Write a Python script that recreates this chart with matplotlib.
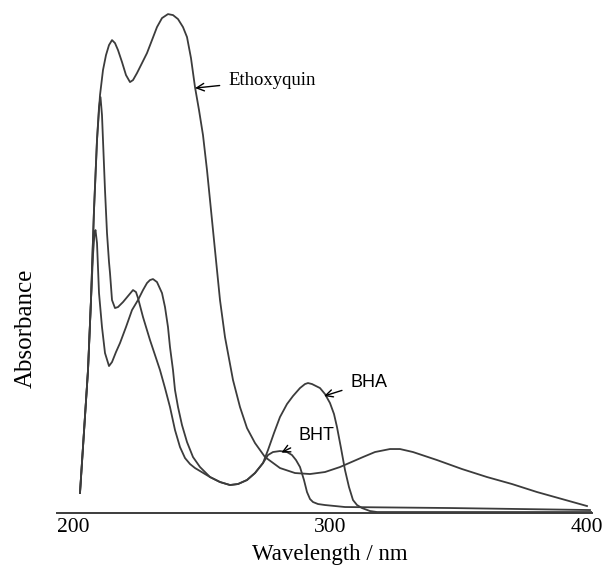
import matplotlib
matplotlib.use("Agg")
import matplotlib.pyplot as plt

# UV spectra: wavelength in nm, absorbance in arbitrary units
ethoxyquin_wl = [202.72, 205.84, 207.00, 208.17, 209.34, 210.51, 211.67, 212.84, 214.01, 215.18,
                 216.34, 217.51, 219.07, 220.62, 222.18, 223.35, 224.90, 226.85, 228.79, 230.74,
                 232.68, 234.63, 236.96, 238.91, 240.86, 242.80, 244.36, 245.91, 247.47, 249.03,
                 250.58, 252.14, 253.31, 255.25, 257.20, 259.14, 262.26, 264.98, 267.70, 270.82,
                 274.71, 280.54, 286.38, 292.22, 298.05, 303.89, 312.84, 317.51, 323.35, 327.24,
                 332.30, 341.63, 351.36, 361.09, 370.82, 380.54, 390.27, 400.00]
ethoxyquin_abs = [0.040, 0.286, 0.426, 0.606, 0.746, 0.836, 0.886, 0.916, 0.936, 0.946,
                  0.940, 0.926, 0.902, 0.876, 0.862, 0.866, 0.880, 0.900, 0.920, 0.946,
                  0.972, 0.990, 0.998, 0.996, 0.988, 0.972, 0.952, 0.910, 0.852, 0.806,
                  0.756, 0.686, 0.626, 0.526, 0.426, 0.352, 0.266, 0.212, 0.170, 0.140,
                  0.112, 0.090, 0.080, 0.078, 0.082, 0.092, 0.112, 0.122, 0.128, 0.128,
                  0.122, 0.106, 0.088, 0.072, 0.058, 0.042, 0.028, 0.014]

bha_wl = [202.72, 205.84, 207.00, 207.78, 208.37, 208.75, 209.34, 210.12, 211.28, 212.45,
          214.01, 215.18, 216.73, 218.29, 220.62, 222.96, 225.29, 227.24, 228.79, 229.96,
          231.13, 232.68, 234.63, 235.80, 236.96, 237.74, 238.91, 239.69, 240.86, 242.41,
          244.36, 246.69, 249.42, 253.31, 257.20, 261.09, 264.20, 267.70, 270.82, 273.93,
          275.88, 278.21, 280.54, 283.27, 285.60, 288.33, 290.27, 291.44, 293.00, 294.55,
          296.11, 298.05, 300.00, 301.56, 302.72, 304.28, 305.84, 307.39, 308.95, 310.51,
          312.45, 315.56, 318.29, 401.95]
bha_abs = [0.040, 0.286, 0.426, 0.516, 0.560, 0.566, 0.540, 0.440, 0.372, 0.320,
           0.294, 0.302, 0.322, 0.340, 0.372, 0.406, 0.426, 0.446, 0.460, 0.466,
           0.468, 0.462, 0.440, 0.412, 0.372, 0.332, 0.286, 0.246, 0.212, 0.176,
           0.142, 0.112, 0.092, 0.072, 0.062, 0.056, 0.058, 0.066, 0.080, 0.100,
           0.126, 0.160, 0.192, 0.218, 0.234, 0.250, 0.258, 0.260, 0.258, 0.254,
           0.250, 0.238, 0.220, 0.198, 0.172, 0.130, 0.086, 0.052, 0.026, 0.016,
           0.010, 0.004, 0.002, 0.002]

bht_wl = [202.72, 205.84, 207.00, 208.17, 209.34, 210.12, 210.70, 211.28, 211.67, 212.45,
          213.23, 214.01, 214.40, 215.18, 216.34, 217.51, 219.46, 221.40, 223.35, 224.51,
          225.29, 227.24, 229.96, 231.91, 233.85, 235.80, 237.74, 239.69, 241.63, 243.58,
          245.53, 247.47, 249.42, 253.31, 257.20, 261.09, 264.20, 267.70, 270.82, 273.93,
          275.88, 277.82, 280.54, 283.27, 285.21, 286.77, 288.33, 289.88, 291.05, 292.22,
          293.39, 295.33, 298.05, 305.84, 346.69, 401.17]
bht_abs = [0.040, 0.286, 0.426, 0.606, 0.746, 0.812, 0.832, 0.796, 0.746, 0.646,
           0.560, 0.502, 0.480, 0.426, 0.410, 0.412, 0.422, 0.434, 0.446, 0.442,
           0.430, 0.392, 0.346, 0.316, 0.286, 0.250, 0.212, 0.166, 0.132, 0.110,
           0.098, 0.090, 0.084, 0.072, 0.062, 0.056, 0.058, 0.066, 0.080, 0.100,
           0.116, 0.122, 0.124, 0.122, 0.116, 0.106, 0.092, 0.066, 0.042, 0.028,
           0.022, 0.018, 0.016, 0.012, 0.010, 0.006]

xtick_vals = [200, 300, 400]

line_col = "#3c3c3c"
serif = ["Liberation Serif", "DejaVu Serif"]
sans = ["Liberation Sans", "DejaVu Sans"]

fig = plt.figure(figsize=(6.05, 5.72), dpi=100)
ax = fig.add_axes([0.0942, 0.1031, 0.8843, 0.888])

ax.plot(ethoxyquin_wl, ethoxyquin_abs, color=line_col, lw=1.3)
ax.plot(bha_wl, bha_abs, color=line_col, lw=1.3)
ax.plot(bht_wl, bht_abs, color=line_col, lw=1.3)

ax.set_xlim(193.77, 401.95)
ax.set_ylim(0, 1.016)

for s in ["top", "right", "left"]:
    ax.spines[s].set_visible(False)
ax.spines["bottom"].set_color(line_col)
ax.spines["bottom"].set_linewidth(1.4)

ax.set_yticks([])
ax.set_xticks(xtick_vals)
ax.set_xticklabels([str(v) for v in xtick_vals], family=serif, fontsize=15.5)
ax.tick_params(axis="x", length=0, pad=3.6)

ax.set_xlabel("Wavelength / nm", family=serif, fontsize=16.5)
ax.xaxis.set_label_coords(0.51, -0.06)
ax.set_ylabel("Absorbance", family=serif, fontsize=18)
ax.yaxis.set_label_coords(-0.038, 0.364)

arrow = dict(arrowstyle="->", color="black", lw=1.0, shrinkA=4, shrinkB=0)
ax.annotate("Ethoxyquin", xy=(247.5, 0.85), xytext=(260.3, 0.866),
            family=serif, fontsize=13.5, va="center", ha="left", arrowprops=arrow)
ax.annotate("BHA", xy=(297.7, 0.234), xytext=(307.8, 0.262),
            family=sans, fontsize=13, va="center", ha="left", arrowprops=arrow)
ax.annotate("BHT", xy=(281.1, 0.121), xytext=(287.7, 0.156),
            family=sans, fontsize=13, va="center", ha="left", arrowprops=arrow)

fig.savefig("out.png", dpi=100)
